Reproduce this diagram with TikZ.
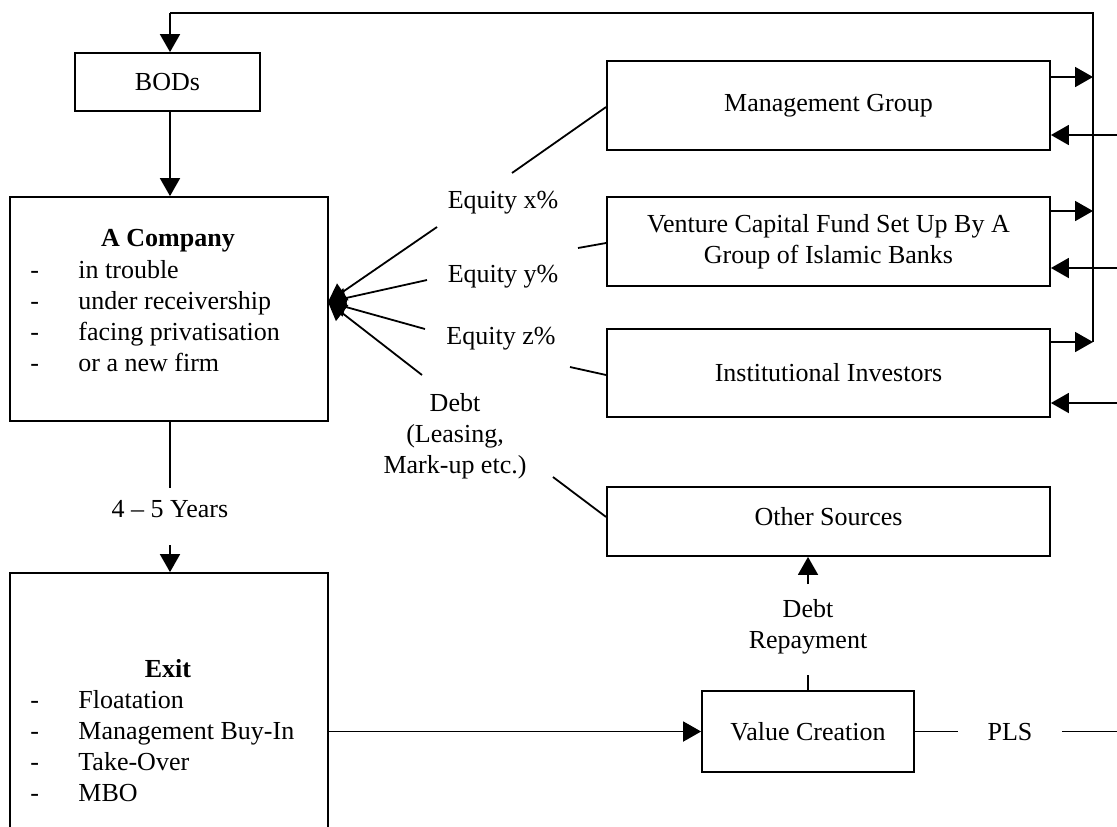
\documentclass[tikz,border=0pt]{standalone}
\usepackage{fontspec}
\setmainfont{Liberation Serif}
\usetikzlibrary{arrows.meta}
\begin{document}
\begin{tikzpicture}[x=0.5pt,y=-0.5pt,
  font=\fontsize{13}{15.5}\selectfont,
  box/.style={draw, line width=0.9pt, inner sep=0pt, align=center},
  ln/.style={line width=0.9pt},
  arr/.style={line width=0.9pt, -{Triangle[length=9pt,width=10pt]}},
  txt/.style={inner sep=0pt, align=center},
  item/.style={inner sep=0pt, anchor=base west}]
\useasboundingbox (0,0) rectangle (1117,826);
\fill[white] (0,0) rectangle (1117,826);

% boxes
\node[box, minimum width=92.5pt, minimum height=29pt] (bods) at (167.5,82) {BODs};
\node[box, minimum width=159pt, minimum height=112pt] (comp) at (169,309) {};
\node[box, minimum width=159pt, minimum height=129.5pt] (exit) at (169,702.5) {};
\node[box, minimum width=221.5pt, minimum height=44.5pt] (mg) at (828.5,105.5) {\raisebox{-1.5pt}{Management Group}};
\node[box, minimum width=221.5pt, minimum height=44.5pt] (vc) at (828.5,241.5) {Venture Capital Fund Set Up By A\\Group of Islamic Banks};
\node[box, minimum width=221.5pt, minimum height=44pt] (ii) at (828.5,373) {Institutional Investors};
\node[box, minimum width=221.5pt, minimum height=34.5pt] (os) at (828.5,521.5) {\raisebox{5pt}{Other Sources}};
\node[box, minimum width=106pt, minimum height=40.5pt] (vcr) at (808,731.5) {Value Creation};

% company text
\node[txt] (compt) at (168,241) {\textbf{A Company}};
\node[item] (c1d) at (30,278) {-};
\node[item] (c1) at (78,278) {in trouble};
\node[item] (c2d) at (30,309) {-};
\node[item] (c2) at (78,309) {under receivership};
\node[item] (c3d) at (30,340) {-};
\node[item] (c3) at (78,340) {facing privatisation};
\node[item] (c4d) at (30,371) {-};
\node[item] (c4) at (78,371) {or a new firm};

% exit text
\node[item, anchor=base] (exitt) at (168,677) {\textbf{Exit}};
\node[item] (e1d) at (30,708) {-};
\node[item] (e1) at (78,708) {Floatation};
\node[item] (e2d) at (30,739) {-};
\node[item] (e2) at (78,739) {Management Buy-In};
\node[item] (e3d) at (30,770) {-};
\node[item] (e3) at (78,770) {Take-Over};
\node[item] (e4d) at (30,801) {-};
\node[item] (e4) at (78,801) {MBO};

% top feedback loop
\coordinate (lt) at (170,13);
\coordinate (rt) at (1093,13);
\coordinate (rb) at (1093,342);
\draw[ln] (rb) -- (rt) -- (lt);
\draw[arr] (lt) -- (lt |- bods.north);
\draw[arr] (lt |- bods.south) -- (lt |- comp.north);

% outgoing arrows to the right line
\coordinate (o1) at (1093,77);
\coordinate (o2) at (1093,211);
\coordinate (o3) at (1093,342);
\draw[arr] (mg.east |- o1) -- (o1);
\draw[arr] (vc.east |- o2) -- (o2);
\draw[arr] (ii.east |- o3) -- (o3);

% incoming arrows from the right
\coordinate (i1) at (1117,135);
\coordinate (i2) at (1117,268);
\coordinate (i3) at (1117,403);
\draw[arr] (i1) -- (mg.east |- i1);
\draw[arr] (i2) -- (vc.east |- i2);
\draw[arr] (i3) -- (ii.east |- i3);

% fan of finance
\coordinate (fan) at (328,302);
\coordinate (f1) at (437,227);
\coordinate (f2) at (427,280);
\coordinate (f3) at (425,329);
\coordinate (f4) at (422,375);
\draw[arr] (f1) -- (fan);
\draw[arr] (f2) -- (fan);
\draw[arr] (f3) -- (fan);
\draw[arr] (f4) -- (fan);

\node[txt] (ex) at (503,203) {Equity x\%};
\node[txt] (ey) at (503,277) {Equity y\%};
\node[txt] (ez) at (501,339) {Equity z\%};
\node[txt] (debt) at (455,436) {Debt\\(Leasing,\\Mark-up etc.)};

% connectors from labels to sources
\coordinate (g1) at (512,173);  \coordinate (g1e) at (607,107);
\coordinate (g2) at (578,248);  \coordinate (g2e) at (607,243);
\coordinate (g3) at (570,367);  \coordinate (g3e) at (607,375);
\coordinate (g4) at (553,477);  \coordinate (g4e) at (607,517);
\draw[ln] (g1) -- (mg.west |- g1e);
\draw[ln] (g2) -- (vc.west |- g2e);
\draw[ln] (g3) -- (ii.west |- g3e);
\draw[ln] (g4) -- (os.west |- g4e);

% 4-5 years
\coordinate (y1) at (170,488);
\coordinate (y2) at (170,545);
\draw[ln] (y1 |- comp.south) -- (y1);
\node[txt] (yrs) at (170,509) {4 -- 5 Years};
\draw[arr] (y2) -- (y2 |- exit.north);

% exit to value creation
\draw[arr] (exit.east |- vcr.west) -- (vcr.west);

% debt repayment
\coordinate (d1) at (808,675);
\coordinate (d2) at (808,584);
\draw[ln] (vcr.north) -- (d1);
\node[txt] (dr) at (808,627) {Debt\\Repayment};
\draw[arr] (d2) -- (d2 |- os.south);

% PLS
\node[txt, inner xsep=14.5pt] (pls) at (1010,731.5) {PLS};
\coordinate (pe) at (1117,731.5);
\draw[ln] (vcr.east) -- (pls.west);
\draw[ln] (pls.east) -- (pe);
\end{tikzpicture}
\end{document}
